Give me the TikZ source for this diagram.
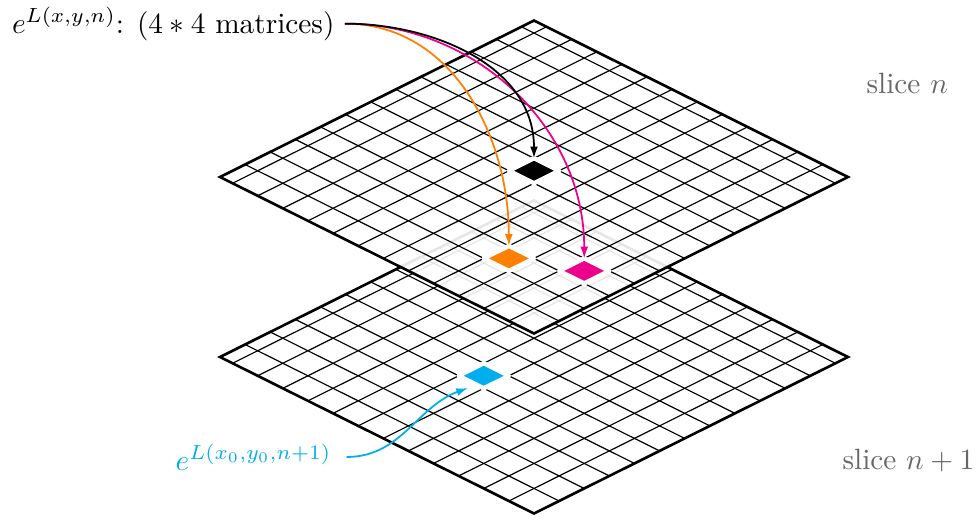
\documentclass[tikz,border=0pt]{standalone}
\usetikzlibrary{arrows.meta}
\definecolor{cyanC}{RGB}{0,174,239}
\definecolor{magC}{RGB}{236,0,140}
\definecolor{orgC}{RGB}{255,128,0}
\begin{document}
\begin{tikzpicture}[x=0.341pt,y=-0.341pt,
  gridline/.style={line width=0.4pt, black},
  rim/.style={line width=0.9pt, black, line join=miter},
  cellmark/.style={draw=white, line width=1.5pt, line join=round},
  pointer/.style={line width=0.6pt, -{Latex[length=4pt,width=2.7pt]}},
  slicelab/.style={text=black!60, inner sep=0pt},
  plainlab/.style={inner sep=0pt},
  slicegrid/.style={x={(8.566pt,4.269pt)}, y={(-8.566pt,4.269pt)}}]
\useasboundingbox (0,0) rectangle (978,520);

% ---- bottom slice (n+1)
\begin{scope}[shift={(534,513.5)}, slicegrid]
  \foreach \i in {1,...,12} {
    \draw[gridline] (\i,0) -- (\i,12.5);
    \draw[gridline] (0,\i) -- (12.5,\i);
  }
  \draw[rim] (0,0) -- (12.5,0) -- (12.5,12.5) -- (0,12.5) -- cycle;
  \filldraw[fill=cyanC, cellmark] (4,6) -- (5,6) -- (5,7) -- (4,7) -- cycle;
\end{scope}

% ---- top slice (n)
\begin{scope}[shift={(534,333.5)}, slicegrid]
  \fill[white, fill opacity=0.9] (0,0) -- (12.5,0) -- (12.5,12.5) -- (0,12.5) -- cycle;
  \foreach \i in {1,...,12} {
    \draw[gridline] (\i,0) -- (\i,12.5);
    \draw[gridline] (0,\i) -- (12.5,\i);
  }
  \draw[rim] (0,0) -- (12.5,0) -- (12.5,12.5) -- (0,12.5) -- cycle;
  \filldraw[fill=black, cellmark] (6,6) -- (7,6) -- (7,7) -- (6,7) -- cycle;
  \filldraw[fill=orgC, cellmark] (2,3) -- (3,3) -- (3,4) -- (2,4) -- cycle;
  \filldraw[fill=magC, cellmark] (3,1) -- (4,1) -- (4,2) -- (3,2) -- cycle;
  \coordinate (tblack) at (7,7);
  \coordinate (torange) at (3,4);
  \coordinate (tmagenta) at (4,2);
\end{scope}

% ---- labels
\node[plainlab, anchor=base east] (mlab) at (335,33) {$e^{L(x,y,n)}$: $(4*4$ matrices$)$};
\node[plainlab, text=cyanC, anchor=base east] (clab) at (332,470) {$e^{L(x_0,y_0,n+1)}$};
\node[slicelab, anchor=base west] (sn) at (866,93) {slice $n$};
\node[slicelab, anchor=base west] (sn1) at (842,469) {slice $n+1$};
\coordinate (cytip) at (468,388);

% ---- arrows
\draw[pointer, orgC] ([xshift=3.4pt]mlab.east) to[out=0, in=90] (torange);
\draw[pointer, magC] ([xshift=3.4pt]mlab.east) to[out=0, in=90] (tmagenta);
\draw[pointer, black] ([xshift=3.4pt]mlab.east) to[out=0, in=90] (tblack);
\draw[pointer, cyanC] ([xshift=5pt]clab.east) to[out=0, in=200] (cytip);
\end{tikzpicture}
\end{document}
